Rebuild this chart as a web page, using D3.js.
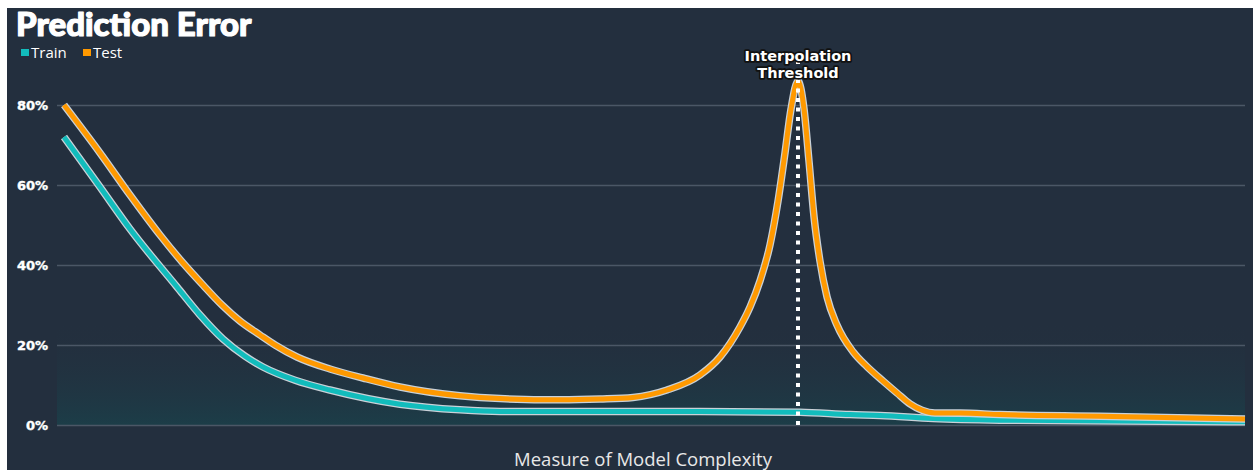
<!DOCTYPE html>
<html>
<head>
<meta charset="utf-8">
<script src="https://cdn.jsdelivr.net/npm/d3@7"></script>
<style>
  html, body { margin: 0; padding: 0; background: #ffffff; }
  svg { display: block; }
</style>
</head>
<body>
<svg id="chart" width="1253" height="470"></svg>
<script>
// Model complexity (arbitrary units, 0 = simplest, 100 = most complex)
const trainX = [0, 3.05, 5.59, 9.57, 11.52, 13.46, 15.33, 16.85, 19.56, 22.52, 28.45, 33.53, 36.92, 45.39, 53.85, 62.32, 66.55, 69.09, 73.58, 79.25, 100];
const trainY = [72, 59.5, 49, 34.5, 27.5, 21.5, 17.2, 14.5, 11.2, 8.75, 5.2, 3.8, 3.4, 3.4, 3.4, 3.2, 2.6, 2.4, 1.6, 1.2, 0.8];

const testX = [0, 3.05, 5.59, 8.13, 10.08, 11.77, 13.38, 14.9, 16.6, 17.87, 19.73, 22.52, 25.32, 28.45, 33.53, 36.92, 42, 45.39, 48.18, 51.06, 53.85, 55.55, 57.24, 58.09, 58.93, 59.78, 60.46, 61.05, 61.56, 62.15, 62.66, 63.08, 63.51, 64.01, 64.61, 65.45, 66.81, 67.99, 69.35, 70.53, 71.63, 72.65, 73.75, 75.87, 79.25, 87.72, 100];
const testY = [80, 68, 57.5, 47.5, 40.5, 35, 30, 26, 22.5, 20, 17, 14, 11.75, 9.5, 7.3, 6.6, 6.3, 6.5, 6.9, 8.75, 12.5, 17, 24.5, 29.5, 36, 45, 56, 68, 79, 86, 79, 66, 52, 41, 32, 25, 18.3, 14.6, 11, 8, 5.3, 3.7, 3, 3, 2.6, 2.2, 1.5];

const thresholdX = 62.15;
const yTicks = [0, 20, 40, 60, 80];
const seriesNames = ["Train", "Test"];
const seriesColors = ["#12bcbc", "#ff9900"];

const svg = d3.select("#chart");
const W = 1253, H = 470;

// page frame and dark panel
svg.append("rect").attr("width", W).attr("height", H).attr("fill", "#ffffff");
svg.append("rect").attr("x", 7).attr("y", 8).attr("width", W - 7).attr("height", H - 8).attr("fill", "#232f3e");

const x = d3.scaleLinear().domain([0, 100]).range([64, 1245]);
const y = d3.scaleLinear().domain([0, 80]).range([425, 105]);
const gridLeft = 57, gridRight = 1245;

// soft teal tint near the baseline
const defs = svg.append("defs");
const grad = defs.append("linearGradient").attr("id", "floor")
  .attr("gradientUnits", "userSpaceOnUse")
  .attr("x1", 0).attr("x2", 0).attr("y1", y(26)).attr("y2", y(0));
grad.append("stop").attr("offset", 0).attr("stop-color", "#232f3e").attr("stop-opacity", 0);
grad.append("stop").attr("offset", 1).attr("stop-color", "#1c3d48").attr("stop-opacity", 1);
svg.append("rect")
  .attr("x", gridLeft).attr("y", y(26))
  .attr("width", gridRight - gridLeft).attr("height", y(0) - y(26))
  .attr("fill", "url(#floor)");

// y axis with gridlines
const yAxis = d3.axisLeft(y).tickValues(yTicks).tickFormat(d => d + "%")
  .tickSize(-(gridRight - gridLeft)).tickPadding(9);
const ga = svg.append("g").attr("transform", `translate(${gridLeft},0)`).call(yAxis);
ga.select(".domain").remove();
ga.selectAll(".tick line").attr("stroke", "#4b5766").attr("stroke-width", 1.5);
ga.selectAll(".tick text")
  .attr("fill", "#ffffff")
  .attr("stroke", "#ffffff").attr("stroke-width", 0.4)
  .attr("font-family", "'DejaVu Sans', sans-serif")
  .attr("font-weight", "bold")
  .attr("font-size", 13);

// series lines
const line = d3.line().x(d => x(d[0])).y(d => y(d[1])).curve(d3.curveMonotoneX);
const series = [
  d3.zip(trainX, trainY),
  d3.zip(testX, testY)
];
series.forEach((pts, i) => {
  svg.append("path").datum(pts).attr("d", line)
    .attr("fill", "none").attr("stroke", "#c9d1d8").attr("stroke-width", 7.5)
    .attr("stroke-linejoin", "round").attr("stroke-linecap", "butt");
  svg.append("path").datum(pts).attr("d", line)
    .attr("fill", "none").attr("stroke", seriesColors[i]).attr("stroke-width", 5)
    .attr("stroke-linejoin", "round").attr("stroke-linecap", "butt");
});

// interpolation threshold marker
svg.append("line")
  .attr("x1", x(thresholdX)).attr("x2", x(thresholdX))
  .attr("y1", 60).attr("y2", y(0))
  .attr("stroke", "#ffffff").attr("stroke-width", 4)
  .attr("stroke-dasharray", "4 5.5");

const lbl = svg.append("text")
  .attr("x", x(thresholdX)).attr("text-anchor", "middle")
  .attr("font-family", "'DejaVu Sans', sans-serif")
  .attr("font-weight", "bold").attr("font-size", 14.5)
  .attr("fill", "#ffffff").attr("stroke", "#111111").attr("stroke-width", 3.5)
  .attr("stroke-linejoin", "round").attr("paint-order", "stroke");
lbl.append("tspan").attr("x", x(thresholdX)).attr("y", 61).text("Interpolation");
lbl.append("tspan").attr("x", x(thresholdX)).attr("y", 78).text("Threshold");

// title
svg.append("text").attr("x", 16).attr("y", 36)
  .attr("font-family", "Lato, sans-serif").attr("font-weight", 900).attr("font-size", 33)
  .attr("fill", "#ffffff").attr("stroke", "#ffffff").attr("stroke-width", 1.2)
  .attr("stroke-linejoin", "round").text("Prediction Error");

// legend
const legendX = [21, 83];
seriesNames.forEach((name, i) => {
  svg.append("rect").attr("x", legendX[i]).attr("y", 49).attr("width", 8).attr("height", 7)
    .attr("fill", seriesColors[i]);
  svg.append("text").attr("x", legendX[i] + 10).attr("y", 58)
    .attr("font-family", "'Open Sans', sans-serif").attr("font-size", 15)
    .attr("fill", "#ffffff").text(name);
});

// x axis title
svg.append("text").attr("x", 643).attr("y", 466).attr("text-anchor", "middle")
  .attr("font-family", "'Open Sans', sans-serif").attr("font-size", 18.5)
  .attr("fill", "#e8e8e8").text("Measure of Model Complexity");
</script>
</body>
</html>
